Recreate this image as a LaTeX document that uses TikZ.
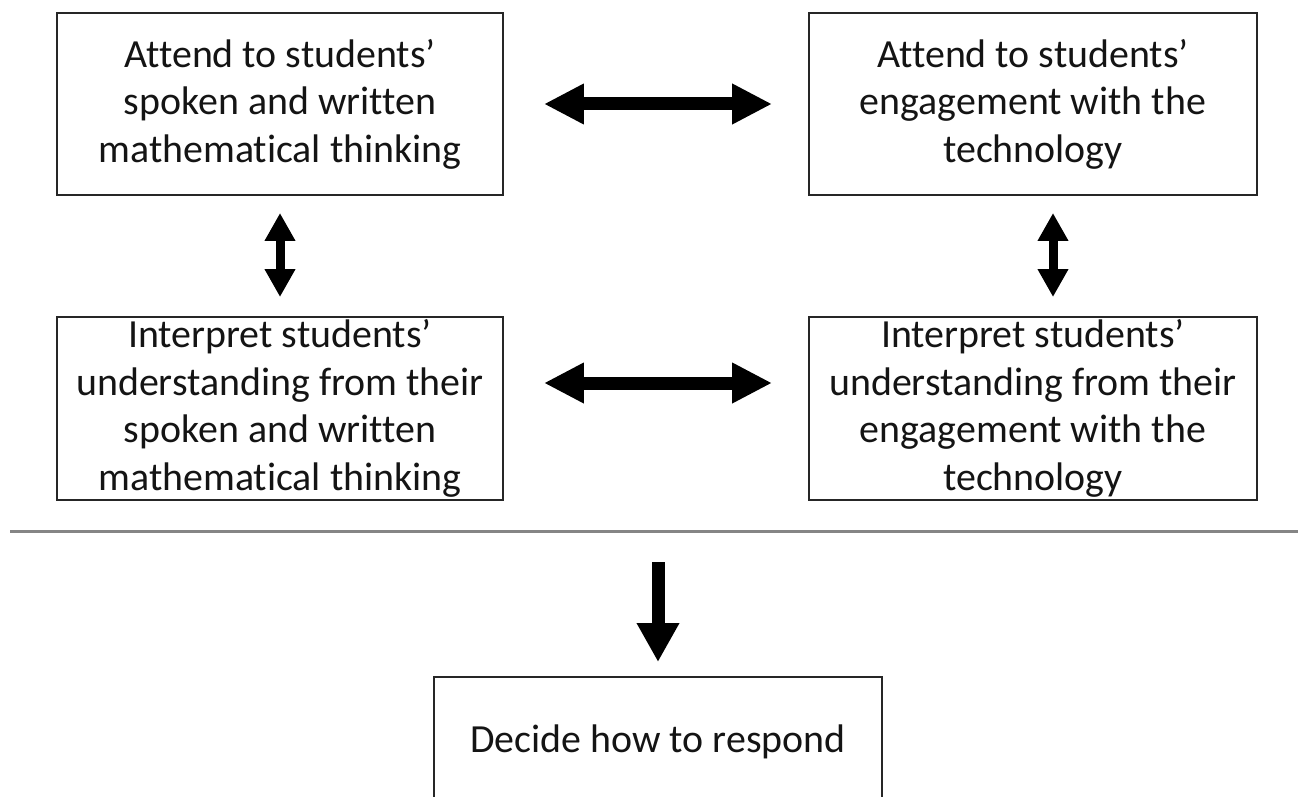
\documentclass[tikz,border=0pt]{standalone}
\usepackage{fontspec}
\setmainfont[Ligatures=NoCommon]{Carlito}
\usetikzlibrary{arrows.meta}
\begin{document}
\begin{tikzpicture}[x=0.02cm,y=-0.02cm,
  box/.style={draw=black!85,line width=0.04cm,inner sep=0pt,align=center,
    font=\fontsize{22.7pt}{27pt}\selectfont,text=black!92},
  harrow/.style={line width=0.26cm,black,{Triangle[length=0.8cm,width=0.76cm]}-{Triangle[length=0.8cm,width=0.76cm]}},
  varrow/.style={line width=0.18cm,black,{Triangle[length=0.56cm,width=0.58cm]}-{Triangle[length=0.56cm,width=0.58cm]}},
  darrow/.style={line width=0.26cm,black,-{Triangle[length=0.78cm,width=0.8cm]}},
  rule/.style={draw=black!48,line width=0.06cm}]
\clip (0,0) rectangle (1298,797);
\useasboundingbox (0,0) rectangle (1298,797);

\node[box,minimum width=8.92cm,minimum height=3.64cm] (b1) at (280,104)
  {Attend to students’\\spoken and written\\mathematical thinking};
\node[box,minimum width=8.96cm,minimum height=3.64cm] (b2) at (1033,104)
  {Attend to students’\\engagement with the\\technology};
\node[box,minimum width=8.92cm,minimum height=3.66cm] (b3) at (280,408.5)
  {Interpret students’\\understanding from their\\spoken and written\\mathematical thinking};
\node[box,minimum width=8.96cm,minimum height=3.66cm] (b4) at (1033,408.5)
  {Interpret students’\\understanding from their\\engagement with the\\technology};
\node[box,minimum width=8.96cm,minimum height=2.6cm] (b5) at (658,742)
  {Decide how to respond};

\draw[harrow,shorten <=0.8cm,shorten >=0.72cm] (b1.east) -- (b2.west);
\draw[harrow,shorten <=0.8cm,shorten >=0.72cm] ([yshift=0.51cm]b3.east) -- ([yshift=0.51cm]b4.west);
\draw[varrow,shorten <=0.34cm,shorten >=0.38cm] (b1.south) -- (b3.north);
\draw[varrow,shorten <=0.34cm,shorten >=0.38cm] ([xshift=0.4cm]b2.south) -- ([xshift=0.4cm]b4.north);

\coordinate (hl) at (10,531);
\coordinate (hr) at (1298,531);
\draw[rule] (hl) -- (hr);

\coordinate (dstart) at (658,562);
\draw[darrow,shorten >=0.28cm] (dstart) -- (b5.north);
\end{tikzpicture}
\end{document}
